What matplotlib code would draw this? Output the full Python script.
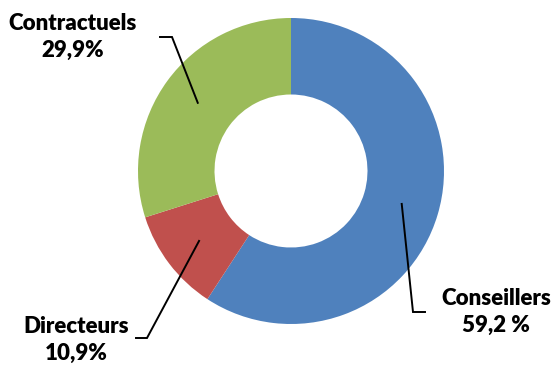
import numpy as np
import matplotlib.pyplot as plt

# donut chart, starts at 12 o'clock and goes clockwise
labels = ["Conseillers", "Directeurs", "Contractuels"]
values = [59.2, 10.9, 29.9]
value_text = ["59,2 %", "10,9%", "29,9%"]
colors = ["#4F81BD", "#C0504D", "#9BBB59"]

W, H = 551, 365
fig = plt.figure(figsize=(W / 100, H / 100), dpi=100)
ax = fig.add_axes([0, 0, 1, 1])

cx, cy, R = 291, 365 - 171, 153
wedges, _ = ax.pie(values, colors=colors, startangle=90, counterclock=False,
                   center=(cx, cy), radius=R, frame=True,
                   wedgeprops=dict(width=R * 0.5, linewidth=0))
ax.set_xlim(0, W)
ax.set_ylim(0, H)
ax.set_aspect("equal")
ax.axis("off")

# label positions (text centre, elbow, end of horizontal)
text_pos = [(496, 365 - 312), (76, 365 - 340), (73, 365 - 37)]
elbows = [(413, 365 - 312), (147, 365 - 338), (172, 365 - 37)]
ends = [(425, 365 - 312), (136, 365 - 338), (160, 365 - 37)]

for w, lab, vt, tp, el, en in zip(wedges, labels, value_text, text_pos, elbows, ends):
    mid = np.deg2rad((w.theta1 + w.theta2) / 2)
    px = cx + 0.755 * R * np.cos(mid)
    py = cy + 0.755 * R * np.sin(mid)
    ax.plot([px, el[0], en[0]], [py, el[1], en[1]], color="black", lw=1.4,
            solid_joinstyle="miter")
    ax.text(tp[0], tp[1], lab + "\n" + vt, ha="center", va="center",
            fontsize=16, fontweight="heavy", family="Lato", linespacing=1.4)

fig.savefig("out.png", dpi=100)
